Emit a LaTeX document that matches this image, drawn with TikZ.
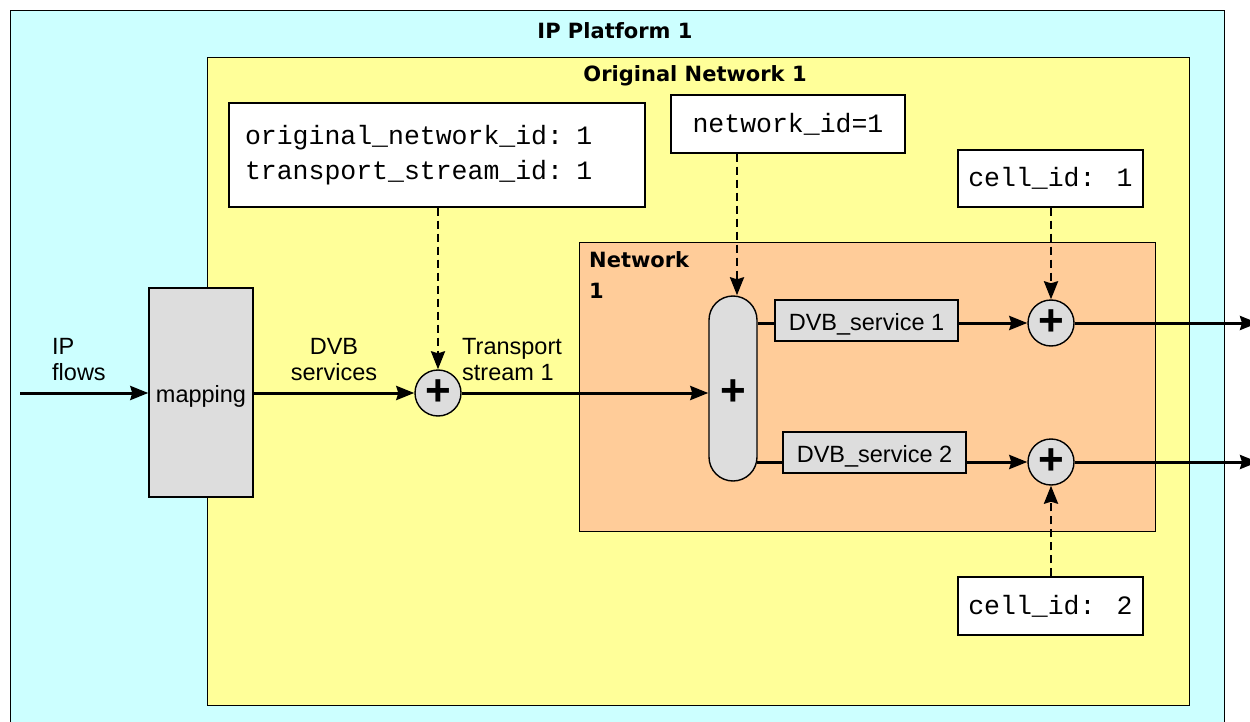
\documentclass[tikz,border=0pt]{standalone}
\usepackage{fontspec}
\setmainfont{Liberation Sans}
\newfontfamily\titlefont{DejaVu Sans}
\newfontfamily\codefont{Liberation Mono}
\usetikzlibrary{arrows.meta}
\definecolor{cyanbg}{HTML}{CCFFFF}
\definecolor{yellowbg}{HTML}{FFFF99}
\definecolor{orangebg}{HTML}{FFCC99}
\definecolor{graybox}{HTML}{DDDDDD}
\tikzset{
  frame/.style={draw=black, line width=1.4pt, anchor=north west, inner sep=0pt},
  title/.style={font=\titlefont\bfseries\fontsize{21}{31}\selectfont, inner sep=0pt},
  lbl/.style={font=\fontsize{23.5}{26}\selectfont, inner sep=0pt},
  codebox/.style={draw=black, fill=white, line width=1.4pt, font=\codefont\fontsize{26.5}{35}\selectfont},
  graynode/.style={draw=black, fill=graybox, line width=1.4pt, font=\fontsize{23.5}{26}\selectfont, inner sep=0pt, text height=22pt, text depth=2pt},
  summer/.style={circle, draw=black, fill=graybox, line width=1.4pt, minimum size=46pt, inner sep=0pt, font=\bfseries\fontsize{44}{44}\selectfont},
  flow/.style={line width=3pt, -{Stealth[length=18pt,width=14pt,inset=2pt]}},
  plainline/.style={line width=3pt},
  dashflow/.style={line width=2.6pt, dash pattern=on 8pt off 5pt, -{Stealth[length=18pt,width=14pt,inset=2pt]}},
}
\begin{document}
\begin{tikzpicture}[x=1pt,y=-1pt]
\useasboundingbox (0,0) rectangle (1250,722);
\fill[white] (0,0) rectangle (1250,722);
% containers
\node[frame, fill=cyanbg, minimum width=1214pt, minimum height=730pt] (platform) at (10,10) {};
\node[frame, fill=yellowbg, minimum width=982pt, minimum height=648pt] (orignet) at (207,57) {};
\node[frame, fill=orangebg, minimum width=576pt, minimum height=289pt] (net) at (579,242) {};
\node[title, anchor=base] (ptitle) at (615,39) {IP Platform 1};
\node[title, anchor=base] (otitle) at (695,82) {Original Network 1};
\node[title, anchor=base west, align=left] (ntitle) at (589,267) {Network};
\node[title, anchor=base west, align=left] (ntitle2) at (589,298) {1};
% code boxes
\node[codebox, text width=384pt, inner xsep=16pt, minimum height=104pt, align=left] (orig) at (437,155) {original\_network\_id: 1\\transport\_stream\_id: 1};
\node[codebox, minimum width=234pt, minimum height=58pt] (netid) at (788,124) {network\_id=1};
\node[codebox, minimum width=185pt, minimum height=57pt] (cell1) at (1050.5,178.5) {cell\_id: 1};
\node[codebox, minimum width=185pt, minimum height=58pt] (cell2) at (1050.5,606) {cell\_id: 2};
% processing
\node[graynode, minimum width=104pt, minimum height=209pt] (map) at (201,392.5) {mapping};
\node[summer] (s1) at (438,393) {+};
\node[draw=black, fill=graybox, line width=1.4pt, rounded corners=24pt, minimum width=48pt, minimum height=185pt, inner sep=0pt] (cap) at (733,388.5) {};
\node[font=\bfseries\fontsize{44}{44}\selectfont, inner sep=0pt] (capplus) at (733,393) {+};
\node[graynode, minimum width=183pt, minimum height=41pt] (d1) at (866.5,320.5) {DVB\_service 1};
\node[graynode, minimum width=183pt, minimum height=41pt] (d2) at (874.5,452.5) {DVB\_service 2};
\node[summer] (s2) at (1051,323) {+};
\node[summer] (s3) at (1051,462) {+};
% labels
\node[lbl, anchor=west, align=left] (ipl) at (52,360) {IP\\flows};
\node[lbl, align=center] (dvbl) at (334,360) {DVB\\services};
\node[lbl, anchor=west, align=left] (tsl) at (462,360) {Transport\\stream 1};
% ends
\coordinate (in) at (20,393);
\coordinate (out1) at (1258,323);
\coordinate (out2) at (1258,462);
% connectors
\draw[flow] (in) -- (map.west |- in);
\draw[flow] (map.east |- s1) -- (s1.west);
\draw[flow] (s1.east) -- (cap.west |- s1);
\draw[plainline] (cap.east |- s2) -- (d1.west |- s2);
\draw[flow] (d1.east |- s2) -- (s2.west);
\draw[plainline] ([xshift=-1pt]cap.east |- s3) -- (d2.west |- s3);
\draw[flow] (d2.east |- s3) -- (s3.west);
\draw[flow] (s2.east) -- (out1);
\draw[flow] (s3.east) -- (out2);
\draw[dashflow] (orig.south -| s1) -- (s1.north);
\draw[dashflow] ([xshift=4pt]netid.south -| cap.north) -- ([xshift=4pt]cap.north);
\draw[dashflow] (cell1.south -| s2) -- (s2.north);
\draw[dashflow] (cell2.north -| s3) -- (s3.south);
\end{tikzpicture}
\end{document}
